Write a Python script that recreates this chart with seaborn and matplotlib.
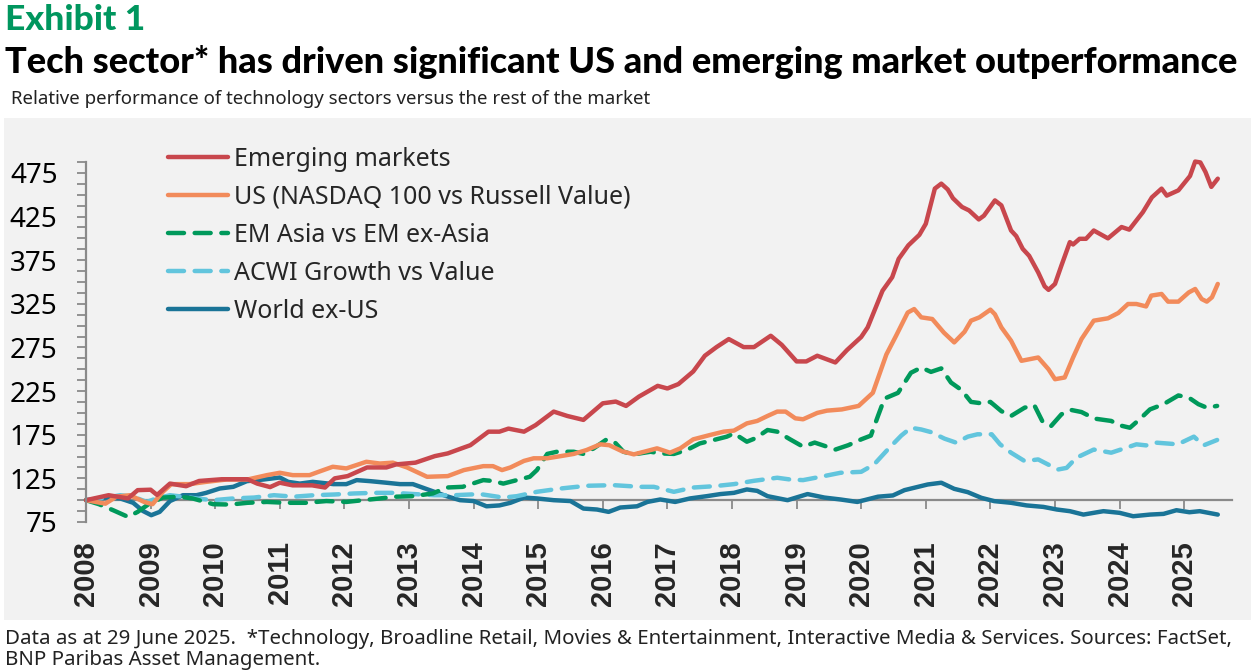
import matplotlib
matplotlib.use("Agg")
import matplotlib.pyplot as plt
from matplotlib import font_manager
from matplotlib.patches import Rectangle
from matplotlib.ticker import MultipleLocator, FixedLocator
import seaborn as sns
import pandas as pd

# ---------------- data ----------------
em_t = [2008.0, 2008.35, 2008.65, 2008.8, 2009.0, 2009.1, 2009.3, 2009.55, 2009.75, 2010.1,
        2010.5, 2010.65, 2010.85, 2011.0, 2011.2, 2011.5, 2011.7, 2011.85, 2012.05, 2012.35,
        2012.65, 2012.8, 2013.1, 2013.4, 2013.6, 2013.8, 2013.95, 2014.23, 2014.4, 2014.54,
        2014.78, 2014.96, 2015.24, 2015.45, 2015.7, 2016.0, 2016.2, 2016.36, 2016.56, 2016.85,
        2017.0, 2017.17, 2017.4, 2017.58, 2017.76, 2017.95, 2018.18, 2018.34, 2018.6, 2018.77,
        2019.0, 2019.15, 2019.32, 2019.6, 2019.78, 2020.0, 2020.1, 2020.33, 2020.48, 2020.58,
        2020.73, 2020.9, 2021.0, 2021.14, 2021.24, 2021.34, 2021.42, 2021.56, 2021.67, 2021.82,
        2021.9, 2022.07, 2022.17, 2022.32, 2022.4, 2022.5, 2022.6, 2022.74, 2022.84, 2022.9,
        2023.0, 2023.1, 2023.23, 2023.28, 2023.38, 2023.48, 2023.6, 2023.82, 2024.03, 2024.15,
        2024.36, 2024.5, 2024.65, 2024.73, 2024.91, 2025.09, 2025.17, 2025.25, 2025.33, 2025.42,
        2025.52]
em_v = [100, 105.7, 102, 111.5, 112, 106, 119, 116, 122, 124,
        124, 119, 115, 120, 117, 117, 114.5, 125, 127.6, 137.5,
        137.5, 141, 143, 150.5, 153.6, 159, 163, 178.5, 178.5, 182,
        178.5, 186, 201.5, 196.5, 192, 211, 213, 208, 218.7, 231,
        228, 233, 247.5, 265.5, 275.4, 284.6, 275.4, 275.4, 288.4, 278,
        259, 259, 265.5, 257.8, 272, 287, 298, 340, 355.5, 376.5,
        392, 404, 416.7, 457, 462.7, 456, 446, 436, 432, 421.7,
        426, 443.5, 437.8, 409, 402.6, 388, 380, 361, 345, 341,
        347.8, 369, 395.7, 393, 399.5, 399.5, 409, 400, 413, 410,
        430, 447, 457, 449, 455, 471.5, 488, 487, 476, 459,
        468.4]

us_t = [2008.0, 2008.3, 2008.47, 2008.68, 2008.9, 2009.03, 2009.19, 2009.32, 2009.6, 2009.86,
        2010.18, 2010.5, 2010.8, 2011.0, 2011.2, 2011.46, 2011.6, 2011.82, 2012.03, 2012.34,
        2012.55, 2012.75, 2012.97, 2013.28, 2013.6, 2013.85, 2014.15, 2014.3, 2014.44, 2014.57,
        2014.78, 2014.93, 2015.14, 2015.35, 2015.55, 2015.75, 2015.96, 2016.1, 2016.3, 2016.48,
        2016.64, 2016.84, 2017.04, 2017.2, 2017.4, 2017.66, 2017.87, 2018.03, 2018.23, 2018.39,
        2018.55, 2018.7, 2018.83, 2018.98, 2019.1, 2019.32, 2019.47, 2019.7, 2019.96, 2020.18,
        2020.39, 2020.54, 2020.72, 2020.82, 2020.93, 2021.1, 2021.28, 2021.44, 2021.6, 2021.7,
        2021.83, 2022.0, 2022.07, 2022.17, 2022.32, 2022.48, 2022.74, 2022.9, 2023.0, 2023.15,
        2023.28, 2023.41, 2023.6, 2023.82, 2023.98, 2024.13, 2024.26, 2024.41, 2024.49, 2024.65,
        2024.75, 2024.91, 2025.07, 2025.17, 2025.27, 2025.35, 2025.43, 2025.52]
us_v = [100, 96, 104, 105.7, 98, 95.4, 109.6, 118.4, 118.4, 121,
        123.7, 123.7, 128.7, 131.4, 128.7, 128.7, 132.5, 138.3, 136.4, 144,
        142, 143, 137.5, 126.8, 127.6, 134.5, 139, 139, 134.5, 137.5,
        145, 148, 148, 150.5, 153, 157.5, 164, 163, 156, 152.5,
        155.5, 159.4, 154.4, 159.4, 169.7, 174.7, 178.5, 179.7, 188, 190.8,
        196.5, 201.5, 201.5, 193.8, 192.7, 200, 202.6, 204, 208, 223,
        267, 288.4, 315, 319, 309.5, 307.6, 292, 280.8, 293, 305.7,
        309.5, 318.3, 313, 298, 282.7, 259.7, 263.5, 250, 238.6, 240.6,
        263.5, 284.6, 305.7, 308.4, 314.5, 324.8, 324.8, 322, 334.4, 336.3,
        327.5, 327.5, 338, 342, 330.5, 327.5, 332.5, 347.8]

asia_t = [2008.0, 2008.2, 2008.42, 2008.65, 2008.8, 2008.98, 2009.19, 2009.45, 2009.65, 2009.97,
          2010.23, 2010.5, 2010.8, 2011.1, 2011.41, 2011.72, 2012.03, 2012.29, 2012.55, 2012.8,
          2013.06, 2013.37, 2013.58, 2013.83, 2014.15, 2014.3, 2014.46, 2014.67, 2014.87, 2014.98,
          2015.14, 2015.29, 2015.55, 2015.7, 2015.86, 2016.06, 2016.19, 2016.32, 2016.48, 2016.74,
          2016.89, 2017.1, 2017.3, 2017.5, 2017.72, 2017.92, 2018.03, 2018.23, 2018.36, 2018.55,
          2018.7, 2018.9, 2019.1, 2019.28, 2019.47, 2019.6, 2019.8, 2020.0, 2020.15, 2020.26,
          2020.36, 2020.57, 2020.77, 2020.93, 2021.08, 2021.24, 2021.39, 2021.55, 2021.7, 2021.86,
          2022.0, 2022.17, 2022.32, 2022.53, 2022.68, 2022.81, 2022.94, 2023.1, 2023.25, 2023.41,
          2023.61, 2023.87, 2024.0, 2024.16, 2024.31, 2024.47, 2024.68, 2024.91, 2025.07, 2025.22,
          2025.35, 2025.51]
asia_v = [100, 95.4, 88.5, 80.9, 86.6, 96, 103, 104, 102, 95.4,
          95, 97, 98, 97, 97, 99, 98, 100, 102, 104,
          104.6, 107.7, 114.5, 115.3, 123, 122, 119, 123, 126.8, 134.5,
          153, 155.5, 155.5, 153, 159.4, 169.7, 165.9, 155.5, 152.5, 155.5,
          153.6, 153, 157.5, 165, 169, 172.8, 176.6, 167, 170.9, 180.4,
          178.5, 169.7, 161.3, 166, 161.3, 158, 163, 169.7, 174, 196.5,
          216.4, 223, 246, 252, 247, 251, 234.8, 226.4, 212.6, 211,
          212.6, 202, 196.5, 206, 208.8, 189.6, 185, 198.4, 203.4, 201,
          193.5, 190.8, 185.8, 183, 192.7, 204, 210, 220, 217.6, 210,
          206, 208]

acwi_t = [2008.0, 2008.32, 2008.53, 2008.73, 2008.94, 2009.09, 2009.3, 2009.5, 2009.71, 2009.97,
          2010.28, 2010.6, 2010.91, 2011.22, 2011.53, 2011.84, 2012.15, 2012.46, 2012.77, 2013.08,
          2013.39, 2013.7, 2014.1, 2014.46, 2014.67, 2014.98, 2015.35, 2015.75, 2016.17, 2016.58,
          2016.79, 2017.1, 2017.4, 2017.72, 2018.03, 2018.34, 2018.7, 2018.9, 2019.1, 2019.37,
          2019.68, 2020.0, 2020.2, 2020.41, 2020.62, 2020.77, 2020.93, 2021.08, 2021.29, 2021.47,
          2021.65, 2021.8, 2022.02, 2022.15, 2022.32, 2022.53, 2022.74, 2022.89, 2023.05, 2023.18,
          2023.33, 2023.6, 2023.87, 2024.1, 2024.26, 2024.41, 2024.57, 2024.73, 2024.9, 2025.15,
          2025.3, 2025.51]
acwi_v = [100, 103, 105.7, 104, 98, 102, 105.7, 104, 102, 100,
          102, 103, 105.7, 104, 105.7, 106.5, 107.7, 108.4, 108.4, 107,
          105.7, 105.7, 107, 103, 104.6, 109.6, 113.4, 116.5, 117.2, 115.3,
          115.3, 109.6, 114.5, 116, 118.4, 122.2, 125.7, 123.7, 123, 126.8,
          131.4, 132.5, 141, 158, 174, 183, 181, 178, 170.5, 165.9,
          172.8, 175.5, 175.5, 164, 154.4, 144.8, 146.7, 141, 135.2, 137,
          148.6, 158, 154.4, 160, 164, 162.8, 165.9, 165, 164, 172.8,
          162.8, 169]

world_t = [2008.0, 2008.32, 2008.53, 2008.73, 2008.88, 2009.01, 2009.14, 2009.3, 2009.5, 2009.71,
           2009.86, 2010.07, 2010.28, 2010.49, 2010.75, 2011.0, 2011.13, 2011.31, 2011.51, 2011.83,
           2012.03, 2012.19, 2012.4, 2012.65, 2012.86, 2013.06, 2013.32, 2013.58, 2013.79, 2014.0,
           2014.2, 2014.4, 2014.57, 2014.78, 2014.98, 2015.24, 2015.5, 2015.7, 2015.91, 2016.09,
           2016.27, 2016.53, 2016.69, 2016.89, 2017.12, 2017.35, 2017.61, 2017.82, 2018.03, 2018.23,
           2018.39, 2018.55, 2018.86, 2019.17, 2019.43, 2019.68, 2019.94, 2020.26, 2020.49, 2020.67,
           2020.88, 2021.03, 2021.24, 2021.44, 2021.65, 2021.86, 2022.06, 2022.32, 2022.56, 2022.82,
           2023.03, 2023.23, 2023.44, 2023.75, 2024.0, 2024.21, 2024.47, 2024.68, 2024.88, 2025.08,
           2025.24, 2025.52]
world_v = [100, 103, 102, 97, 87.7, 82.8, 86.6, 99, 105.7, 105.7,
           108.4, 113.4, 115.3, 121.8, 123.7, 126, 121, 119, 121, 118.4,
           118.4, 123, 121.8, 120, 118.4, 118.4, 111.5, 104.6, 100, 99,
           93, 94, 97, 103, 102, 100, 99, 90.4, 89.3, 86.6,
           91.6, 93, 98, 100.8, 98, 102, 104.6, 107, 108.4, 112.3,
           110.7, 104.6, 100, 107, 103, 100.8, 98, 104, 105.4, 111.5,
           115.3, 118, 120, 113, 109.2, 102.7, 98.9, 97, 94, 92.3,
           89.3, 87.4, 83.5, 87.4, 85.5, 81.6, 83.5, 84.3, 88.5, 86.2,
           87.4, 83.5]

series_names = ["Emerging markets", "US (NASDAQ 100 vs Russell Value)", "EM Asia vs EM ex-Asia",
                "ACWI Growth vs Value", "World ex-US"]
year_ticks = list(range(2008, 2026))
year_labels = [str(y) for y in year_ticks]
y_label_ticks = [75, 125, 175, 225, 275, 325, 375, 425, 475]

# ---------------- styling ----------------
colors = ["#c8474d", "#f28b5b", "#00995b", "#62c5dd", "#1a7497"]
dashed = [False, False, True, True, False]
AXIS_GREY = "#8a8a8a"
W, H = 1251, 670


def pick(*names):
    for n in names:
        try:
            font_manager.findfont(font_manager.FontProperties(family=n), fallback_to_default=False)
            return n
        except Exception:
            continue
    return "DejaVu Sans"


BODY = pick("Noto Sans", "Open Sans", "DejaVu Sans")
NARROW = pick("Liberation Sans Narrow", "Noto Sans", "DejaVu Sans")
ARIAL = pick("Liberation Sans", "DejaVu Sans")
HEAVY = pick("Lato", "Open Sans", "DejaVu Sans")

sns.set_style("white")
plt.rcParams["font.family"] = [BODY, "DejaVu Sans"]

fig = plt.figure(figsize=(W / 100, H / 100), dpi=100)
fig.patch.set_facecolor("white")
fig.patches.append(Rectangle((4 / W, 1 - 620 / H), (W - 4) / W, (620 - 118) / H,
                             transform=fig.transFigure, facecolor="#f2f2f2",
                             edgecolor="none", zorder=-10))

ax = fig.add_axes([86 / W, 1 - 522 / H, (1232 - 86) / W, (522 - 162) / H])
ax.set_facecolor("none")

frames = [
    pd.DataFrame({"t": em_t, "v": em_v}),
    pd.DataFrame({"t": us_t, "v": us_v}),
    pd.DataFrame({"t": asia_t, "v": asia_v}),
    pd.DataFrame({"t": acwi_t, "v": acwi_v}),
    pd.DataFrame({"t": world_t, "v": world_v}),
]
draw_order = [4, 3, 2, 1, 0]
handles = {}
for i in draw_order:
    n_before = len(ax.lines)
    sns.lineplot(data=frames[i], x="t", y="v", ax=ax, color=colors[i], linewidth=3.2,
                 estimator=None, sort=False, label=series_names[i], legend=False)
    ln = ax.lines[n_before]
    ln.set_clip_on(False)
    ln.set_solid_capstyle("round")
    ln.set_solid_joinstyle("round")
    if dashed[i]:
        ln.set_dashes((3.6, 2.4))
        ln.set_dash_capstyle("round")
    handles[i] = ln

ax.set_xlim(2008, 2025.74)
ax.set_ylim(75, 487.5)
ax.set_xlabel("")
ax.set_ylabel("")

for s in ["top", "right"]:
    ax.spines[s].set_visible(False)
ax.spines["left"].set_color(AXIS_GREY)
ax.spines["left"].set_linewidth(1.6)
ax.spines["bottom"].set_color(AXIS_GREY)
ax.spines["bottom"].set_linewidth(1.6)
ax.spines["bottom"].set_position(("data", 100))
ax.spines["bottom"].set_zorder(1)

ax.xaxis.set_major_locator(FixedLocator(year_ticks))
ax.tick_params(axis="x", which="major", direction="out", length=6.5, width=1.3,
               color=AXIS_GREY, labelbottom=False, bottom=True)
ax.yaxis.set_major_locator(FixedLocator(y_label_ticks))
ax.yaxis.set_minor_locator(MultipleLocator(12.5))
ax.tick_params(axis="y", which="both", direction="out", length=6.5, width=1.3,
               color=AXIS_GREY, left=True)
ax.tick_params(axis="y", which="major", labelsize=20, pad=14, labelcolor="black")
for lab in ax.get_yticklabels():
    lab.set_family(BODY)
    lab.set_fontweight("medium")

sec = ax.secondary_xaxis(0)
sec.set_xticks(year_ticks)
sec.set_xticklabels(year_labels, rotation=90, fontsize=21, fontweight="bold", family=ARIAL)
sec.tick_params(axis="x", length=0, pad=14)
sec.spines["bottom"].set_visible(False)

leg = ax.legend([handles[i] for i in range(5)], series_names, loc="upper left",
                bbox_to_anchor=(0.0716, 1.042), frameon=False, fontsize=18,
                handlelength=2.4, handletextpad=0.25, labelspacing=0.52,
                borderaxespad=0, borderpad=0)
for txt in leg.get_texts():
    txt.set_family(BODY)
    txt.set_fontweight("medium")

# ---------------- texts ----------------
t_exh = fig.text(5 / W, 1 - 30 / H, "Exhibit 1", color="#00965e", family=HEAVY,
                 fontweight="black", fontsize=22, va="baseline", ha="left")
t_title = fig.text(5 / W, 1 - 73 / H,
                   "Tech sector* has driven significant US and emerging market outperformance",
                   color="black", family=HEAVY, fontweight="black", fontsize=22,
                   va="baseline", ha="left")
t_sub = fig.text(11 / W, 1 - 104 / H,
                 "Relative performance of technology sectors versus the rest of the market",
                 color="#222222", family=NARROW, fontsize=14, va="baseline", ha="left")
t_f1 = fig.text(5 / W, 1 - 644 / H,
                "Data as at 29 June 2025.  *Technology, Broadline Retail, Movies & Entertainment, "
                "Interactive Media & Services. Sources: FactSet,",
                color="#222222", family=NARROW, fontsize=13, va="baseline", ha="left")
t_f2 = fig.text(5 / W, 1 - 665 / H, "BNP Paribas Asset Management.",
                color="#222222", family=NARROW, fontsize=13, va="baseline", ha="left")

fig.canvas.draw()
r = fig.canvas.get_renderer()


def fit(t, target):
    w = t.get_window_extent(renderer=r).width
    t.set_fontsize(t.get_fontsize() * target / w)


fit(t_exh, 140)
fit(t_title, 1232)
fit(t_sub, 640)
fit(t_f1, 1228)
t_f2.set_fontsize(t_f1.get_fontsize())

fig.savefig("out.png", dpi=100, facecolor="white")
